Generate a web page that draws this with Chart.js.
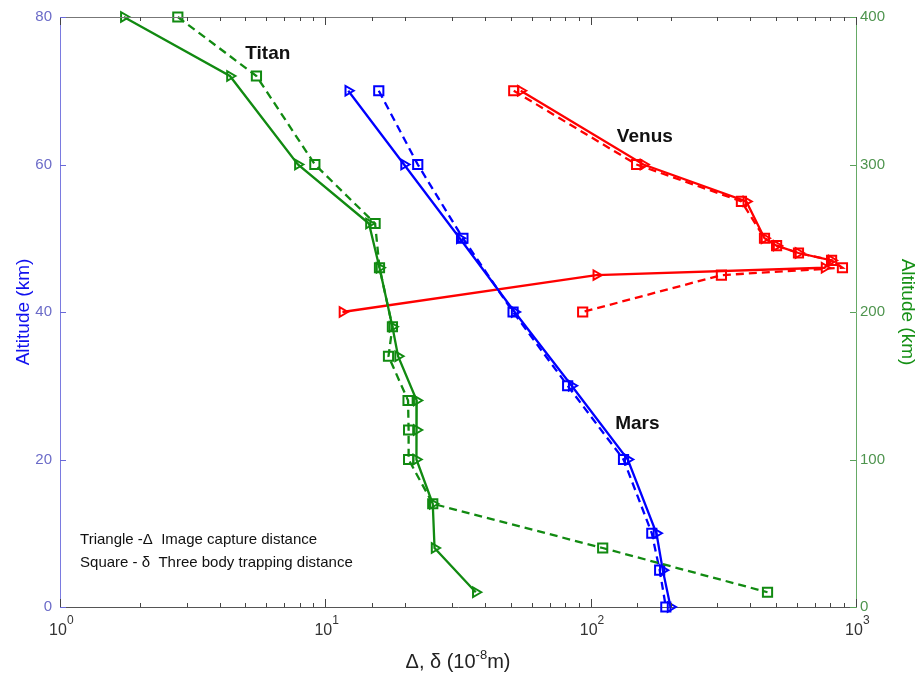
<!DOCTYPE html>
<html>
<head>
<meta charset="utf-8">
<script src="https://cdn.jsdelivr.net/npm/chart.js@4.4.0/dist/chart.umd.min.js"></script>
<style>
  html, body { margin: 0; padding: 0; background: #fff; }
  #wrap { width: 922px; height: 677px; }
</style>
</head>
<body>
<div id="wrap"><canvas id="altChart" width="922" height="677"></canvas></div>
<script>
// Mars (left axis, km)
const marsAlt = [70, 60, 50, 40, 30, 20, 10, 5, 0];
const marsTri = [12.2, 19.8, 32.1, 51.7, 84.8, 138, 177, 187, 200];
const marsSq  = [15.9, 22.3, 33.0, 51.0, 81.9, 133, 170, 182, 192];

// Venus (left axis, km)
const venusAlt = [70, 60, 55, 50, 49, 48, 47, 46, 45, 40];
const venusTri = [54.5, 158, 386, 452, 502, 607, 809, 761, 105, 11.6];
const venusSq  = [51.3, 149, 370, 452, 502, 607, 809, 889, 311, 93.3];

// Titan (right axis, km)
const titanAlt = [400, 360, 300, 260, 230, 190, 170, 140, 120, 100, 70, 40, 10];
const titanTri = [1.74, 4.37, 7.88, 14.6, 16.0, 17.9, 18.8, 22.1, 22.1, 22.0, 25.4, 25.8, 36.9];
const titanSq  = [2.78, 5.5, 9.13, 15.4, 16.0, 17.9, 17.3, 20.5, 20.6, 20.6, 25.4, 111, 464];

// decade labels on the log axis
const xDecades = [1, 10, 100, 1000];
const xTitle = ['\u0394, \u03b4 (10', '-8', 'm)'];

// labels placed in data coordinates (x value, left-axis km)
const notes = [
    { text: 'Titan', x: 6.07, y: 75.0 },
    { text: 'Venus', x: 160, y: 63.8 },
    { text: 'Mars', x: 150, y: 24.9 }
];
const keyLines = [
    { text: 'Triangle -\u0394  Image capture distance', x: 1.19, y: 9.05 },
    { text: 'Square - \u03b4  Three body trapping distance', x: 1.19, y: 5.95 }
];

const BLUE = '#0000ff', RED = '#ff0000', GREEN = '#118a11';
const FONT = '"Liberation Sans", Arial, sans-serif';

function pts(xs, ys) {
    return xs.map((v, i) => ({ x: v, y: ys[i] }));
}

function series(label, xs, ys, color, square, axis) {
    return {
        label: label,
        data: pts(xs, ys),
        yAxisID: axis,
        borderColor: color,
        backgroundColor: 'rgba(0,0,0,0)',
        borderWidth: 2.3,
        borderDash: square ? [8, 5] : [],
        pointStyle: square ? 'rect' : 'triangle',
        rotation: square ? 0 : 90,
        pointRadius: square ? 6.5 : 5.5,
        pointBorderWidth: 2,
        pointBorderColor: color,
        pointBackgroundColor: 'rgba(0,0,0,0)',
        tension: 0,
        clip: false
    };
}

const decor = {
    id: 'decor',
    afterDraw(chart) {
        const { ctx, chartArea: a, scales } = chart;
        ctx.save();
        // top frame
        ctx.strokeStyle = '#777';
        ctx.lineWidth = 1;
        ctx.beginPath();
        ctx.moveTo(a.left, a.top + 0.5);
        ctx.lineTo(a.right, a.top + 0.5);
        ctx.stroke();

        // inward log ticks, bottom and top
        ctx.strokeStyle = '#444';
        scales.x.ticks.forEach(t => {
            const px = Math.round(scales.x.getPixelForValue(t.value)) + 0.5;
            const len = t.major ? 8 : 4;
            ctx.beginPath();
            ctx.moveTo(px, a.bottom); ctx.lineTo(px, a.bottom - len);
            ctx.moveTo(px, a.top); ctx.lineTo(px, a.top + len);
            ctx.stroke();
        });
        // left ticks
        ctx.strokeStyle = '#6a6ad8';
        scales.y.ticks.forEach(t => {
            const py = Math.round(scales.y.getPixelForValue(t.value)) + 0.5;
            ctx.beginPath(); ctx.moveTo(a.left, py); ctx.lineTo(a.left + 6, py); ctx.stroke();
        });
        // right ticks
        ctx.strokeStyle = '#5aa05a';
        scales.y2.ticks.forEach(t => {
            const py = Math.round(scales.y2.getPixelForValue(t.value)) + 0.5;
            ctx.beginPath(); ctx.moveTo(a.right, py); ctx.lineTo(a.right - 6, py); ctx.stroke();
        });

        // decade labels 10^n with raised exponent
        ctx.fillStyle = '#333';
        ctx.textBaseline = 'alphabetic';
        xDecades.forEach(v => {
            const px = scales.x.getPixelForValue(v);
            ctx.font = '16px ' + FONT;
            ctx.textAlign = 'center';
            ctx.fillText('10', px - 2, a.bottom + 28);
            const w = ctx.measureText('10').width;
            ctx.font = '12px ' + FONT;
            ctx.textAlign = 'left';
            ctx.fillText(String(Math.round(Math.log10(v))), px - 2 + w / 2, a.bottom + 17);
        });

        // x axis title with superscript
        ctx.fillStyle = '#222';
        ctx.font = '20px ' + FONT;
        const w0 = ctx.measureText(xTitle[0]).width;
        const w2 = ctx.measureText(xTitle[2]).width;
        ctx.font = '13px ' + FONT;
        const w1 = ctx.measureText(xTitle[1]).width;
        let tx = (a.left + a.right) / 2 - (w0 + w1 + w2) / 2;
        const ty = a.bottom + 61;
        ctx.textAlign = 'left';
        ctx.font = '20px ' + FONT;
        ctx.fillText(xTitle[0], tx, ty);
        ctx.font = '13px ' + FONT;
        ctx.fillText(xTitle[1], tx + w0, ty - 9);
        ctx.font = '20px ' + FONT;
        ctx.fillText(xTitle[2], tx + w0 + w1, ty);

        // text notes
        ctx.fillStyle = '#111';
        ctx.textAlign = 'center';
        ctx.textBaseline = 'middle';
        ctx.font = 'bold 19px ' + FONT;
        notes.forEach(n => {
            ctx.fillText(n.text, scales.x.getPixelForValue(n.x), scales.y.getPixelForValue(n.y));
        });
        ctx.textAlign = 'left';
        ctx.font = '15px ' + FONT;
        keyLines.forEach(n => {
            ctx.fillText(n.text, scales.x.getPixelForValue(n.x), scales.y.getPixelForValue(n.y));
        });
        ctx.restore();
    }
};

const ctx = document.getElementById('altChart').getContext('2d');
new Chart(ctx, {
    type: 'line',
    data: {
        datasets: [
            series('Titan \u0394', titanTri, titanAlt, GREEN, false, 'y2'),
            series('Titan \u03b4', titanSq, titanAlt, GREEN, true, 'y2'),
            series('Mars \u0394', marsTri, marsAlt, BLUE, false, 'y'),
            series('Mars \u03b4', marsSq, marsAlt, BLUE, true, 'y'),
            series('Venus \u0394', venusTri, venusAlt, RED, false, 'y'),
            series('Venus \u03b4', venusSq, venusAlt, RED, true, 'y')
        ]
    },
    options: {
        responsive: false,
        animation: false,
        layout: { padding: { top: 15, left: 0, right: 0, bottom: 0 } },
        plugins: {
            legend: { display: false },
            tooltip: { enabled: false }
        },
        scales: {
            x: {
                type: 'logarithmic',
                min: 1,
                max: 1000,
                afterFit(s) { s.height = 70; },
                grid: { display: false, drawTicks: false },
                border: { display: true, color: '#555', width: 1 },
                ticks: {
                    autoSkip: false,
                    maxRotation: 0,
                    callback() { return ''; }
                }
            },
            y: {
                type: 'linear',
                position: 'left',
                min: 0,
                max: 80,
                afterFit(s) { s.width = 60; },
                grid: { display: false, drawTicks: false },
                border: { display: true, color: '#7a7ae0', width: 1 },
                ticks: {
                    stepSize: 20,
                    padding: 8,
                    color: '#6b6bc8',
                    font: { size: 15, family: FONT }
                },
                title: {
                    display: true,
                    text: 'Altitude (km)',
                    color: '#1111ee',
                    font: { size: 19, family: FONT },
                    padding: { top: 12, bottom: 0 }
                }
            },
            y2: {
                type: 'linear',
                position: 'right',
                min: 0,
                max: 400,
                afterFit(s) { s.width = 66; },
                grid: { display: false, drawTicks: false },
                border: { display: true, color: '#66aa66', width: 1 },
                ticks: {
                    stepSize: 100,
                    padding: 4,
                    color: '#4e944e',
                    font: { size: 15, family: FONT }
                },
                title: {
                    display: true,
                    text: 'Altitude (km)',
                    color: '#159015',
                    font: { size: 19, family: FONT },
                    padding: { top: 3, bottom: 0 }
                }
            }
        }
    },
    plugins: [decor]
});
</script>
</body>
</html>
